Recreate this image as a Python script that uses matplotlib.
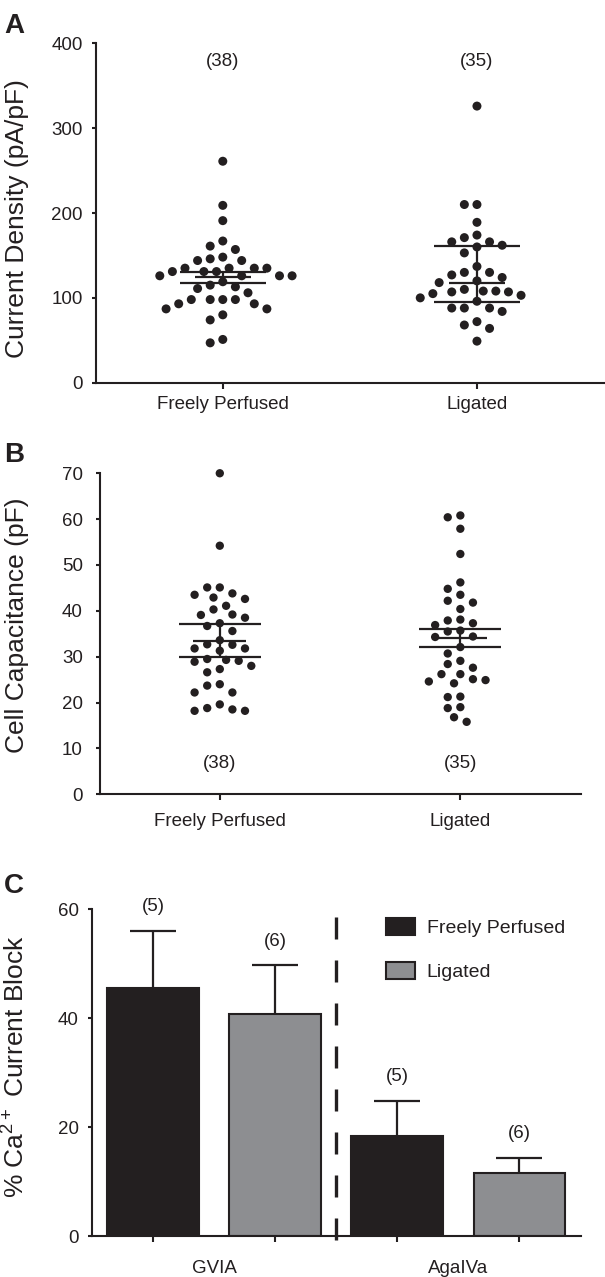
import numpy as np
import matplotlib.pyplot as plt
from matplotlib.patches import Patch

plt.rcParams['font.family'] = ['Liberation Sans', 'DejaVu Sans']
plt.rcParams['mathtext.default'] = 'regular'

INK = '#231f20'
GREY = '#8d8e91'

# ---- data ----
groups = ['Freely Perfused', 'Ligated']
n_cells = ['(38)', '(35)']

# A: current density (pA/pF)
density_fp = [261, 209, 191, 167, 161, 157, 148, 144, 144, 146, 135, 135, 135, 135,
              131, 131, 131, 126, 126, 126, 126, 119, 115, 113, 111, 106, 98, 98,
              98, 98, 93, 93, 87, 87, 80, 74, 47, 51]
density_lig = [326, 210, 210, 189, 174, 171, 166, 166, 162, 160, 153, 137, 130, 130,
               124, 127, 118, 120, 110, 108, 107, 105, 107, 108, 103, 100, 96, 88,
               84, 88, 88, 68, 72, 64, 49]
# lower, centre, upper summary lines
density_sum_fp = [117.0, 124.5, 130.0]
density_sum_lig = [95.5, 117.0, 161.0]

# B: cell capacitance (pF)
cap_fp = [70, 54.2, 45.1, 45.1, 43.5, 43.8, 42.6, 42.9, 41.1, 40.3, 39.2, 38.5, 39.1,
          36.7, 37.3, 35.6, 33.6, 32.6, 32.7, 31.8, 31.8, 31.3, 29.1, 29.5, 29.3, 28.9,
          28.0, 26.6, 27.3, 24.0, 23.7, 22.2, 22.2, 19.6, 18.8, 18.5, 18.2, 18.2]
cap_lig = [60.8, 60.4, 57.9, 52.4, 46.2, 44.8, 43.5, 41.8, 42.2, 40.4, 38.1, 37.9, 36.9,
           37.3, 35.7, 35.5, 34.4, 34.3, 32.1, 30.7, 28.4, 29.1, 27.6, 26.2, 26.2, 24.9,
           24.2, 24.6, 25.1, 21.3, 21.2, 19.0, 18.8, 15.8, 16.8]
cap_sum_fp = [29.9, 33.5, 37.1]
cap_sum_lig = [32.1, 34.1, 36.0]

# C: % Ca2+ current block
toxins = ['GVIA', 'AgaIVa']
block_fp = [45.5, 18.4]
block_fp_err = [10.5, 6.4]
block_lig = [40.7, 11.6]
block_lig_err = [9.0, 2.7]
block_n_fp = ['(5)', '(5)']
block_n_lig = ['(6)', '(6)']


def swarm(ax, values, diam, step):
    # simple beeswarm in pixel space, points placed from the top down
    bb = ax.get_window_extent()
    x0, x1 = ax.get_xlim()
    y0, y1 = ax.get_ylim()
    sx = bb.width / (x1 - x0)
    sy = bb.height / (y1 - y0)
    vals = np.asarray(values, float)
    cand = [0]
    for k in range(1, 25):
        cand += [-k, k]
    placed = []
    offs = np.zeros(len(vals))
    for i in np.argsort(-vals, kind='stable'):
        yp = vals[i] * sy
        for k in cand:
            xp = k * step
            if all((xp - a) ** 2 + (yp - b) ** 2 >= diam ** 2 for a, b in placed):
                break
        placed.append((xp, yp))
        offs[i] = xp / sx
    return offs


def style(ax):
    for s in ['top', 'right']:
        ax.spines[s].set_visible(False)
    for s in ['left', 'bottom']:
        ax.spines[s].set_linewidth(1.5)
        ax.spines[s].set_color(INK)
    ax.tick_params(colors=INK, labelcolor=INK, width=1.5, labelsize=13.5)


def scatter_panel(ax, data, sums, ms, diam):
    for i, (vals, sm) in enumerate(zip(data, sums)):
        offs = swarm(ax, vals, diam, 6.3)
        ax.scatter(i + offs, vals, s=ms, color=INK, edgecolors='none', zorder=2,
                   clip_on=False)
        lo, mid, hi = sm
        ax.hlines([lo, hi], i - 0.17, i + 0.17, color=INK, lw=1.6, zorder=3)
        ax.hlines(mid, i - 0.11, i + 0.11, color=INK, lw=1.6, zorder=3)
        ax.vlines(i, lo, hi, color=INK, lw=1.6, zorder=3)


fig = plt.figure(figsize=(6.05, 12.77), dpi=100)

# ---- A ----
axA = fig.add_axes([0.1582, 0.7003, 0.8402, 0.2658])
style(axA)
axA.set_xlim(-0.5, 1.5)
axA.set_ylim(0, 400)
axA.set_yticks([0, 100, 200, 300, 400])
axA.set_xticks([0, 1], groups)
axA.tick_params(axis='y', length=3, pad=6.3)
axA.tick_params(axis='x', length=4.3, pad=5.5)
scatter_panel(axA, [density_fp, density_lig], [density_sum_fp, density_sum_lig], 42, 11.5)
for i, t in enumerate(n_cells):
    axA.text(i, 378, t, ha='center', va='center', fontsize=13.5, color=INK)
axA.set_ylabel('Current Density (pA/pF)', fontsize=19, color=INK)
axA.yaxis.set_label_coords(-0.131, 0.484)

# ---- B ----
axB = fig.add_axes([0.1645, 0.3780, 0.7952, 0.2514])
style(axB)
axB.set_xlim(-0.5, 1.5)
axB.set_ylim(0, 70)
axB.set_yticks(np.arange(0, 71, 10))
axB.set_xticks([0, 1], groups)
axB.tick_params(axis='y', length=3, pad=9)
axB.tick_params(axis='x', length=4.3, pad=9.5)
scatter_panel(axB, [cap_fp, cap_lig], [cap_sum_fp, cap_sum_lig], 36, 10.5)
for i, t in enumerate(n_cells):
    axB.text(i, 6.8, t, ha='center', va='center', fontsize=13.5, color=INK)
axB.set_ylabel('Cell Capacitance (pF)', fontsize=19, color=INK)
axB.yaxis.set_label_coords(-0.1465, 0.526)

# ---- C ----
axC = fig.add_axes([0.1517, 0.0321, 0.8079, 0.2558])
style(axC)
axC.set_xlim(-0.5, 3.5)
axC.set_ylim(0, 60)
axC.set_yticks([0, 20, 40, 60])
x_fp = np.array([0, 2])
x_lig = np.array([1, 3])
axC.errorbar(x_fp, block_fp, yerr=block_fp_err, fmt='none', ecolor=INK, elinewidth=1.6,
             capsize=16.5, capthick=1.6, zorder=1)
axC.errorbar(x_lig, block_lig, yerr=block_lig_err, fmt='none', ecolor=INK, elinewidth=1.6,
             capsize=16.5, capthick=1.6, zorder=1)
axC.bar(x_fp, block_fp, width=0.75, color=INK, edgecolor=INK, linewidth=1.5, zorder=2)
axC.bar(x_lig, block_lig, width=0.75, color=GREY, edgecolor=INK, linewidth=1.5, zorder=2)
for xs, m, e, ns in [(x_fp, block_fp, block_fp_err, block_n_fp),
                     (x_lig, block_lig, block_lig_err, block_n_lig)]:
    for x, mv, ev, t in zip(xs, m, e, ns):
        axC.annotate(t, (x, mv + ev), xytext=(0, 17.5), textcoords='offset points',
                     ha='center', va='center', fontsize=13.5, color=INK)
axC.axvline(1.5, ymin=-0.012, ymax=1.022, color=INK, lw=2.4, dashes=(6.6, 6.3),
            clip_on=False)
axC.set_xticks([0.5, 2.5], toxins)
axC.set_xticks([0, 1, 2, 3], minor=True)
axC.tick_params(axis='x', which='major', length=0, pad=17)
axC.tick_params(axis='x', which='minor', length=4.3, width=1.5, color=INK)
axC.tick_params(axis='y', length=3, pad=6.3)
axC.set_ylabel('% Ca$^{2+}$ Current Block', fontsize=19, color=INK)
axC.yaxis.set_label_coords(-0.128, 0.519)
handles = [Patch(facecolor=INK, edgecolor=INK, linewidth=1.5, label=groups[0]),
           Patch(facecolor=GREY, edgecolor=INK, linewidth=1.5, label=groups[1])]
axC.legend(handles=handles, loc='upper left', bbox_to_anchor=(0.6015, 0.9734),
           frameon=False, fontsize=14, handlelength=1.5, handleheight=0.93,
           handletextpad=0.6, labelspacing=1.3, borderpad=0, borderaxespad=0,
           labelcolor=INK)

# panel letters
for lab, y in [('A', 0.9742), ('B', 0.6385), ('C', 0.3005)]:
    fig.text(0.0064, y, lab, fontsize=20, fontweight='bold', color=INK,
             ha='left', va='baseline')

fig.savefig('out.png', dpi=100)
